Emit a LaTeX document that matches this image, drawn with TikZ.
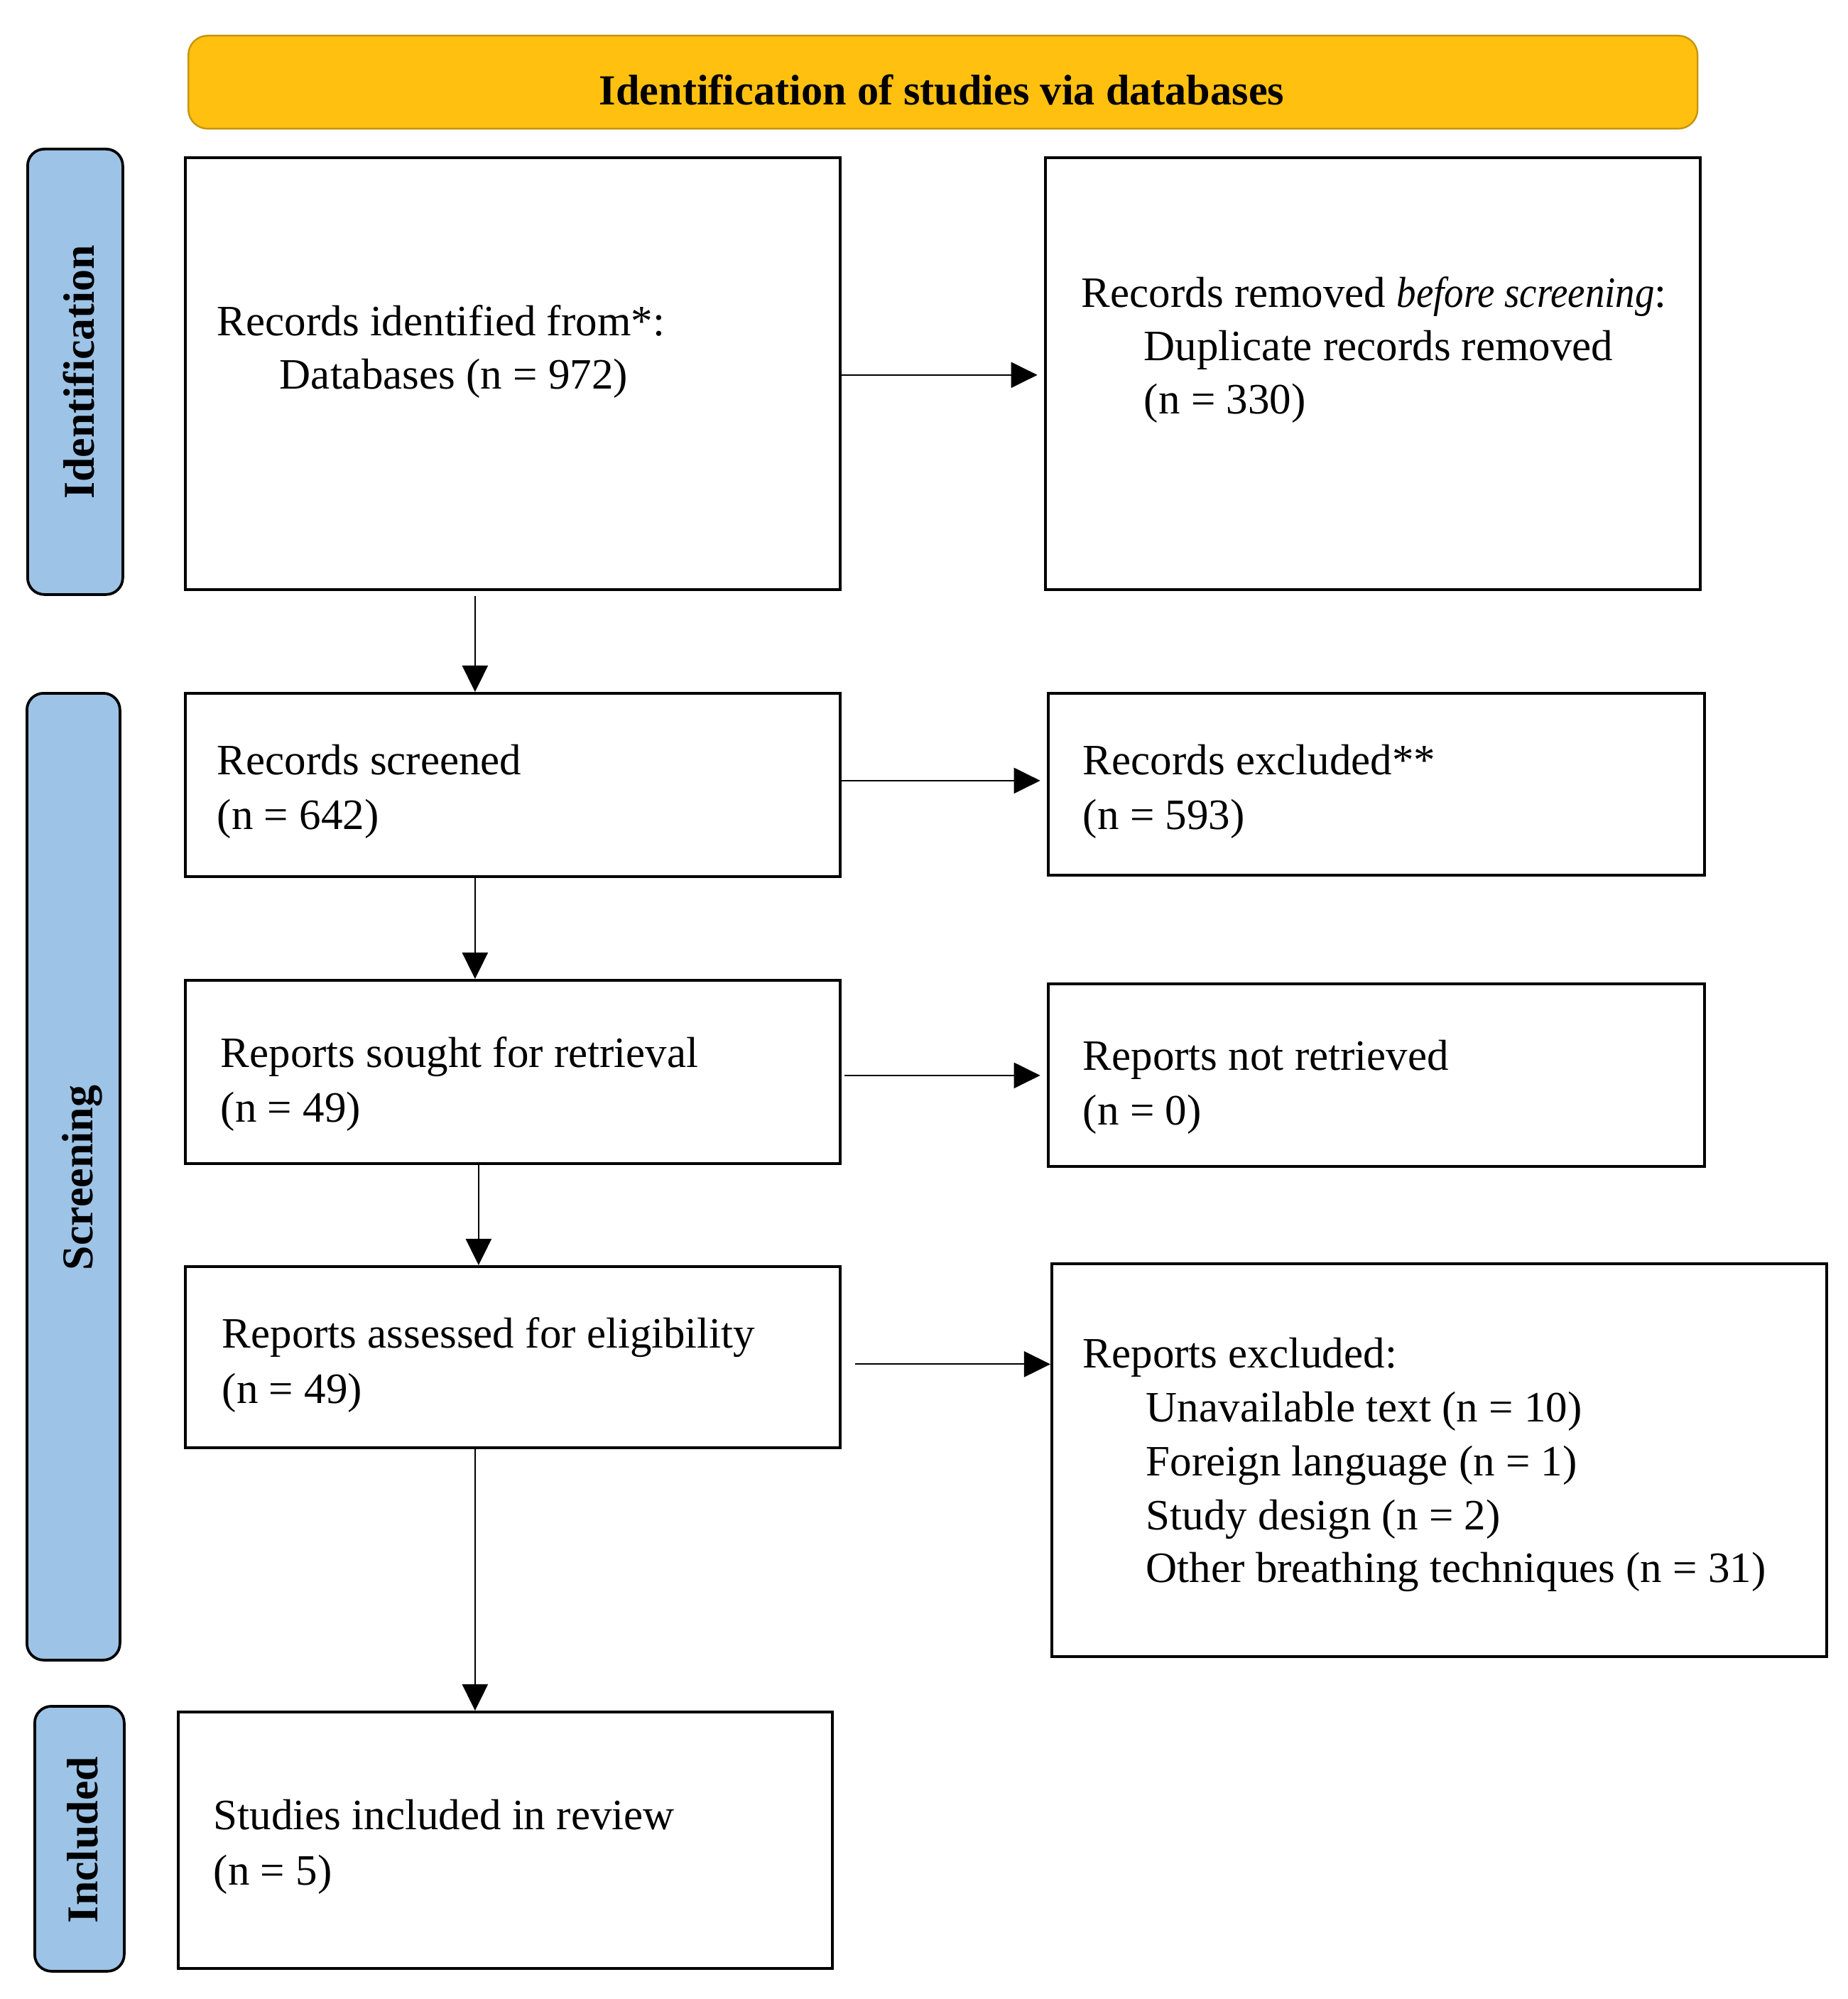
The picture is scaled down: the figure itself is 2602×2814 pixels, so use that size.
\documentclass[tikz,border=0pt]{standalone}
\usepackage{fontspec}
\setmainfont{Liberation Serif}
\usetikzlibrary{arrows.meta}
\definecolor{hdrfill}{RGB}{255,192,16}
\definecolor{hdrline}{RGB}{196,148,10}
\definecolor{sideblue}{RGB}{157,195,230}
\newcommand\mkbox[6]{\node[#6, minimum width={(#4-#2)*0.2132pt}, minimum height={(#5-#3)*0.2132pt}] (#1) at (#2,#3) {};}
\tikzset{
  box/.style={draw=black, line width=0.8pt, fill=white, inner sep=0pt, anchor=north west},
  sidebar/.style={draw=black, line width=0.8pt, fill=sideblue, rounded corners=5pt, inner sep=0pt, anchor=north west},
  hdr/.style={draw=hdrline, line width=0.5pt, fill=hdrfill, rounded corners=5.8pt, inner sep=0pt, anchor=north west},
  lbl/.style={font=\fontsize{13pt}{16pt}\selectfont, inner sep=0pt, anchor=base west},
  hdrlbl/.style={font=\fontsize{12.85pt}{16pt}\selectfont\bfseries, inner sep=0pt, anchor=base},
  sidelbl/.style={font=\fontsize{13.2pt}{16pt}\selectfont\bfseries, inner sep=0pt, anchor=base, rotate=90},
  arr/.style={-{Triangle[length=7.9pt,width=7.7pt]}, line width=0.45pt},
  gap/.style={shorten >=2pt},
}
\begin{document}
\begin{tikzpicture}[x=0.2132pt, y=-0.2132pt]
\useasboundingbox (0,0) rectangle (2602,2814);
% header
\mkbox{hdr}{264}{49}{2389}{180}{hdr}
\node[hdrlbl] (hdrt) at (1326,148) {Identification of studies via databases};
% side bars
\mkbox{sid}{37}{208}{171}{835}{sidebar}
\node[sidelbl] (sidt) at (132,524) {Identification};
\mkbox{sscr}{36}{974}{167}{2335}{sidebar}
\node[sidelbl] (sscrt) at (130,1658) {Screening};
\mkbox{sinc}{47}{2400}{173}{2773}{sidebar}
\node[sidelbl] (sinct) at (138,2590) {Included};
% boxes
\mkbox{b1}{259}{220}{1181}{828}{box}
\node[lbl] (b1a) at (305,473) {Records identified from*:};
\node[lbl] (b1b) at (393,548) {Databases (n = 972)};
\mkbox{b2}{1470}{220}{2392}{828}{box}
\node[lbl] (b2a) at (1522,433) {Records removed \scalebox{0.9}[1]{\textit{before screening}}:};
\node[lbl] (b2b) at (1610,508) {Duplicate records removed};
\node[lbl] (b2c) at (1610,583) {(n = 330)};
\mkbox{b3}{259}{974}{1181}{1232}{box}
\node[lbl] (b3a) at (305,1090) {Records screened};
\node[lbl] (b3b) at (305,1167) {(n = 642)};
\mkbox{b4}{1474}{974}{2398}{1230}{box}
\node[lbl] (b4a) at (1524,1090) {Records excluded**};
\node[lbl] (b4b) at (1524,1167) {(n = 593)};
\mkbox{b5}{259}{1378}{1181}{1636}{box}
\node[lbl] (b5a) at (310,1502) {Reports sought for retrieval};
\node[lbl] (b5b) at (310,1579) {(n = 49)};
\mkbox{b6}{1474}{1383}{2398}{1640}{box}
\node[lbl] (b6a) at (1524,1506) {Reports not retrieved};
\node[lbl] (b6b) at (1524,1583) {(n = 0)};
\mkbox{b7}{259}{1781}{1181}{2036}{box}
\node[lbl] (b7a) at (312,1897) {Reports assessed for eligibility};
\node[lbl] (b7b) at (312,1975) {(n = 49)};
\mkbox{b8}{1479}{1777}{2570}{2330}{box}
\node[lbl] (b8a) at (1524,1925) {Reports excluded:};
\node[lbl] (b8b) at (1613,2001) {Unavailable text (n = 10)};
\node[lbl] (b8c) at (1613,2077) {Foreign language (n = 1)};
\node[lbl] (b8d) at (1613,2153) {Study design (n = 2)};
\node[lbl] (b8e) at (1613,2227) {Other breathing techniques (n = 31)};
\mkbox{b9}{249}{2408}{1170}{2769}{box}
\node[lbl] (b9a) at (300,2575) {Studies included in review};
\node[lbl] (b9b) at (300,2653) {(n = 5)};
% connectors
\coordinate (a1) at ([shift={(0,2)}]b1.east);
\coordinate (a3) at ([shift={(0,-6)}]b3.east);
\coordinate (a5) at ([shift={(4,5)}]b5.east);
\coordinate (a7) at ([shift={(19,10)}]b7.east);
\draw[arr, gap] (a1) -- (a1 -| b2.west);
\draw[arr, gap] (a3) -- (a3 -| b4.west);
\draw[arr, gap] (a5) -- (a5 -| b6.west);
\draw[arr] (a7) -- (a7 -| b8.west);
\coordinate (d1) at ([shift={(-53,7)}]b1.south);
\coordinate (d3) at ([shift={(-53,0)}]b3.south);
\coordinate (d5) at ([shift={(-48,0)}]b5.south);
\coordinate (d7) at ([shift={(-53,0)}]b7.south);
\draw[arr] (d1) -- (d1 |- b3.north);
\draw[arr] (d3) -- (d3 |- b5.north);
\draw[arr] (d5) -- (d5 |- b7.north);
\draw[arr] (d7) -- (d7 |- b9.north);
\end{tikzpicture}
\end{document}
